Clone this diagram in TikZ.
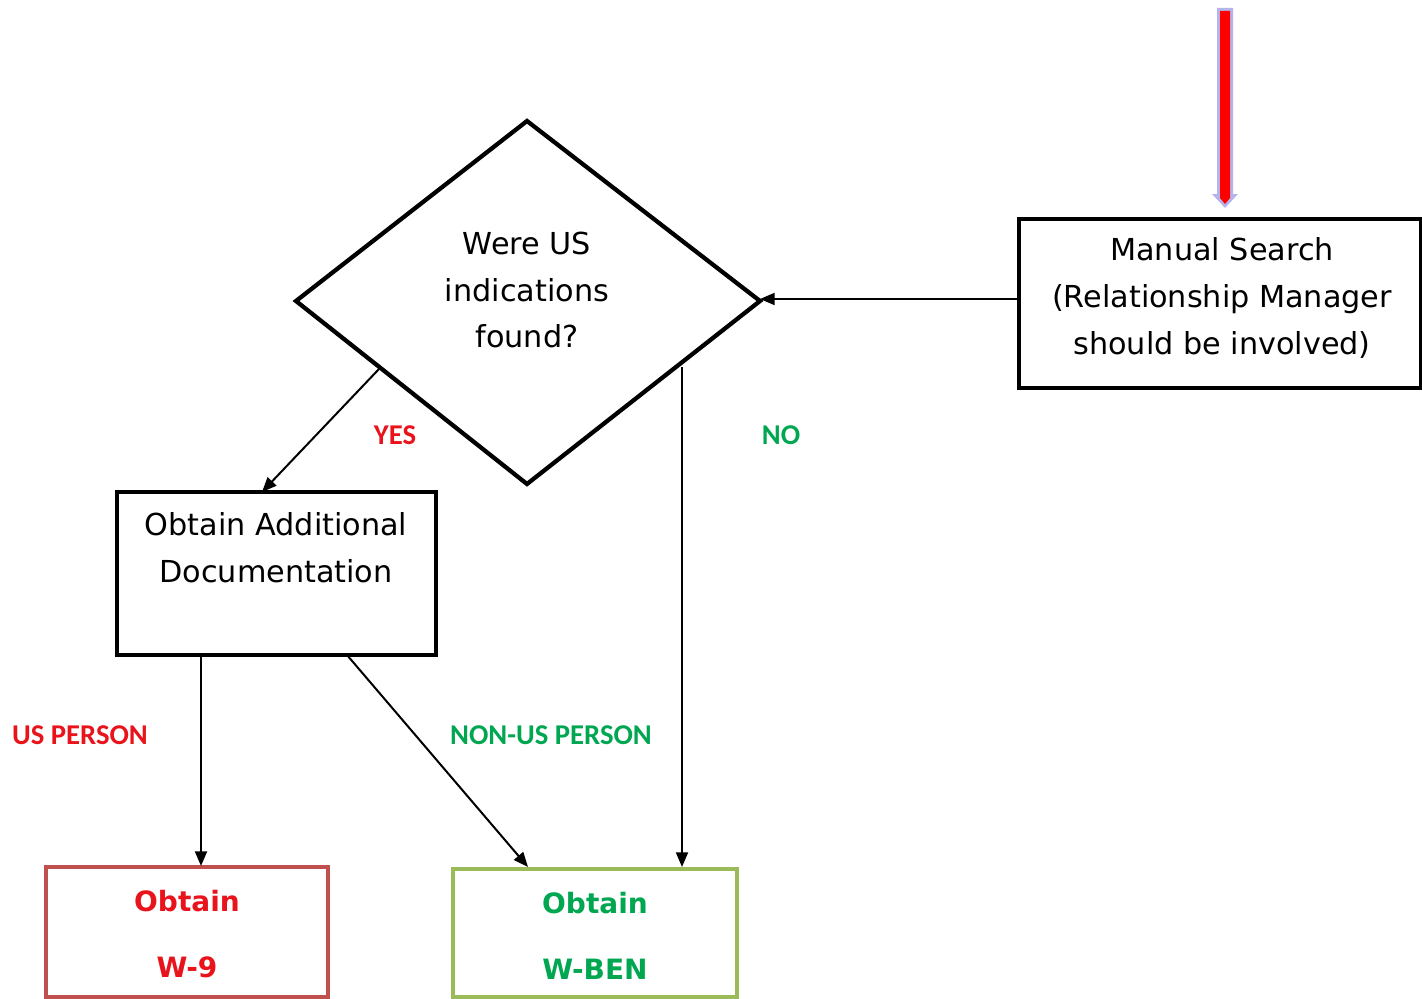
\documentclass[tikz,border=0pt]{standalone}
\usepackage{fontspec}
\setmainfont{DejaVu Sans}
\newfontfamily\lblfont{Carlito}
\usetikzlibrary{arrows.meta}
\definecolor{redbox}{HTML}{C0504D}
\definecolor{greenbox}{HTML}{9BBB59}
\definecolor{lblred}{HTML}{E8131B}
\definecolor{lblgreen}{HTML}{00A650}
\definecolor{arrowblue}{HTML}{B4B4EA}
\tikzset{
  box/.style={draw, line width=3.2pt, inner sep=0pt},
  txt/.style={font=\fontsize{22.7}{35}\selectfont, align=center},
  conn/.style={line width=1.5pt, -{Triangle[length=11pt,width=9pt]}},
  lbl/.style={font=\lblfont\bfseries\fontsize{21.5}{24}\selectfont},
}
\begin{document}
\begin{tikzpicture}[x=0.75pt,y=-0.75pt]
\useasboundingbox (0,0) rectangle (1422,999);
% top block arrow
\fill[arrowblue] (1217,8) -- (1233,8) -- (1233,194) -- (1238,194) -- (1225,208) -- (1212,194) -- (1217,194) -- cycle;
\fill[red] (1220,11) -- (1230,11) -- (1230,198) -- (1225,204) -- (1220,198) -- cycle;
% diamond
\draw[line width=3.2pt, line join=miter] (527,121) -- (760,301) -- (527,484) -- (296,301) -- cycle;
\coordinate (dR) at (760,299);
\coordinate (dYes) at (379,369);
\coordinate (dNo) at (682,367);
\node[txt] (q) at (527,290) {Were US\\indications\\found?};
% boxes
\draw[box] (1019,219) rectangle (1421,388);
\coordinate (msL) at (1019,299);
\node[txt] (ms) at (1222,298) {Manual Search\\(Relationship Manager\\should be involved)};
\draw[box] (117,492) rectangle (436,655);
\coordinate (oaT) at (262,492);
\coordinate (oaB1) at (201,655);
\coordinate (oaB2) at (347,655);
\node[txt] (oa) at (276,548) {Obtain Additional\\Documentation};
\draw[box, draw=redbox, line width=3.6pt] (46,867) rectangle (328,997);
\coordinate (w9T) at (201,866);
\node[font=\bfseries\fontsize{21}{50}\selectfont, text=lblred, align=center] (w9) at (187,934) {Obtain\\W-9};
\draw[box, draw=greenbox, line width=3.6pt] (453,869) rectangle (737,997);
\coordinate (wbT1) at (528,867);
\coordinate (wbT2) at (682,867);
\node[font=\bfseries\fontsize{21}{50}\selectfont, text=lblgreen, align=center] (wb) at (595,936) {Obtain\\W-BEN};
% connectors
\draw[conn] (msL) -- (dR);
\draw[conn] (dYes) -- (oaT);
\draw[conn] (dNo) -- (wbT2);
\draw[conn] (oaB1) -- (w9T);
\draw[conn] (oaB2) -- (wbT1);
% labels
\node[lbl, text=lblred] (yes) at (395,435) {YES};
\node[lbl, text=lblgreen] (no) at (781,435) {NO};
\node[lbl, text=lblred] (usp) at (80,735) {US PERSON};
\node[lbl, text=lblgreen] (nusp) at (551,735) {NON-US PERSON};
\end{tikzpicture}
\end{document}
